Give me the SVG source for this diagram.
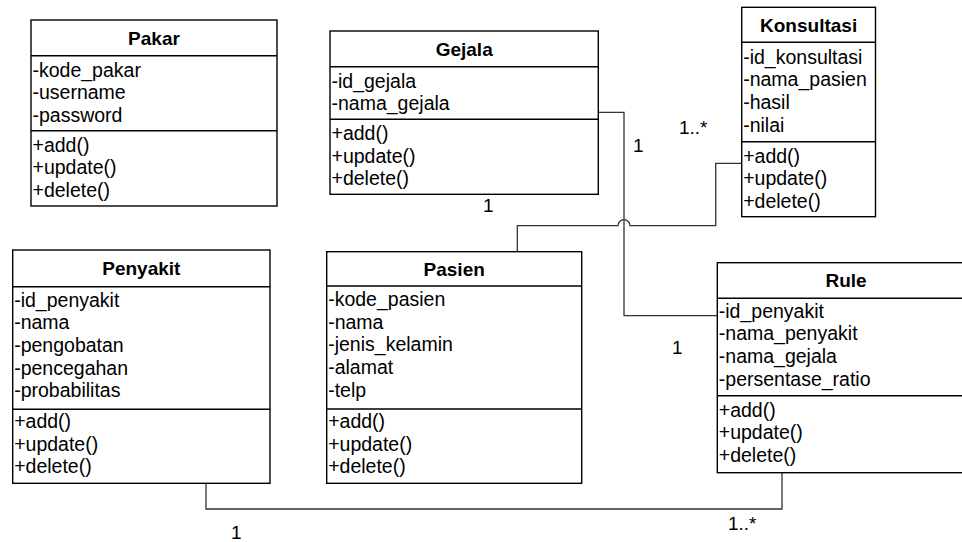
<svg xmlns="http://www.w3.org/2000/svg" width="962" height="542" viewBox="0 0 962 542">
  <style>
    .box { fill: #fff; stroke: #000; stroke-width: 1.4; }
    .div { stroke: #000; stroke-width: 1.4; }
    .title { font-family: "Liberation Sans", Arial, sans-serif; font-size: 19px; font-weight: bold; text-anchor: middle; fill: #000; }
    .item { font-family: "Liberation Sans", Arial, sans-serif; font-size: 19.5px; fill: #000; }
    .mult { font-family: "Liberation Sans", Arial, sans-serif; font-size: 19px; fill: #000; }
    .conn { fill: none; stroke: #333; stroke-width: 1.3; }
  </style>
  <rect width="962" height="542" fill="#fff"/>

  <!-- associations -->
  <g id="connectors">
    <!-- Gejala to Rule -->
    <path class="conn" d="M598.3,112.3 H624 V315.7 H717.3"/>
    <!-- Konsultasi to Pasien, hopping over the Gejala line -->
    <path class="conn" d="M741.7,163.3 H715.7 V225.7 H630 A6,6 0 0 0 618,225.7 H517.3 V251.7"/>
    <!-- Penyakit to Rule -->
    <path class="conn" d="M206,483.3 V509 H782 V472.7"/>
    <text class="mult" x="483" y="212">1</text>
    <text class="mult" x="633" y="152">1</text>
    <text class="mult" x="679" y="134">1..*</text>
    <text class="mult" x="672" y="354">1</text>
    <text class="mult" x="231" y="539">1</text>
    <text class="mult" x="728" y="530">1..*</text>
  </g>

  <!-- Pakar -->
  <g id="pakar">
    <rect class="box" x="31" y="20" width="246" height="186"/>
    <line class="div" x1="31" y1="55.7" x2="277" y2="55.7"/>
    <line class="div" x1="31" y1="130.7" x2="277" y2="130.7"/>
    <text class="title" x="154" y="44.5">Pakar</text>
    <text class="item" x="32.5" y="76.7">-kode_pakar</text>
    <text class="item" x="32.5" y="99.2">-username</text>
    <text class="item" x="32.5" y="121.7">-password</text>
    <text class="item" x="32.5" y="151.7">+add()</text>
    <text class="item" x="32.5" y="174.2">+update()</text>
    <text class="item" x="32.5" y="196.7">+delete()</text>
  </g>

  <!-- Gejala -->
  <g id="gejala">
    <rect class="box" x="330" y="31" width="268.3" height="163.3"/>
    <line class="div" x1="330" y1="66.7" x2="598.3" y2="66.7"/>
    <line class="div" x1="330" y1="119.3" x2="598.3" y2="119.3"/>
    <text class="title" x="464.2" y="55.6">Gejala</text>
    <text class="item" x="331.5" y="87.5">-id_gejala</text>
    <text class="item" x="331.5" y="110.2">-nama_gejala</text>
    <text class="item" x="331.5" y="140">+add()</text>
    <text class="item" x="331.5" y="162.7">+update()</text>
    <text class="item" x="331.5" y="185.4">+delete()</text>
  </g>

  <!-- Konsultasi -->
  <g id="konsultasi">
    <rect class="box" x="741.7" y="7.3" width="133.8" height="209.4"/>
    <line class="div" x1="741.7" y1="42.3" x2="875.5" y2="42.3"/>
    <line class="div" x1="741.7" y1="141.7" x2="875.5" y2="141.7"/>
    <text class="title" x="808.6" y="31.5">Konsultasi</text>
    <text class="item" x="743.2" y="63.5">-id_konsultasi</text>
    <text class="item" x="743.2" y="86.2">-nama_pasien</text>
    <text class="item" x="743.2" y="108.9">-hasil</text>
    <text class="item" x="743.2" y="131.6">-nilai</text>
    <text class="item" x="743.2" y="162.7">+add()</text>
    <text class="item" x="743.2" y="185.4">+update()</text>
    <text class="item" x="743.2" y="208.1">+delete()</text>
  </g>

  <!-- Penyakit -->
  <g id="penyakit">
    <rect class="box" x="12.7" y="250" width="257.3" height="233.3"/>
    <line class="div" x1="12.7" y1="286.7" x2="270" y2="286.7"/>
    <line class="div" x1="12.7" y1="409.3" x2="270" y2="409.3"/>
    <text class="title" x="141.3" y="275">Penyakit</text>
    <text class="item" x="14.2" y="306.5">-id_penyakit</text>
    <text class="item" x="14.2" y="329.2">-nama</text>
    <text class="item" x="14.2" y="351.9">-pengobatan</text>
    <text class="item" x="14.2" y="374.6">-pencegahan</text>
    <text class="item" x="14.2" y="397.3">-probabilitas</text>
    <text class="item" x="14.2" y="428">+add()</text>
    <text class="item" x="14.2" y="450.7">+update()</text>
    <text class="item" x="14.2" y="473.4">+delete()</text>
  </g>

  <!-- Pasien -->
  <g id="pasien">
    <rect class="box" x="326.7" y="251.7" width="255" height="231.6"/>
    <line class="div" x1="326.7" y1="286" x2="581.7" y2="286"/>
    <line class="div" x1="326.7" y1="409" x2="581.7" y2="409"/>
    <text class="title" x="454.2" y="275.5">Pasien</text>
    <text class="item" x="328.2" y="306">-kode_pasien</text>
    <text class="item" x="328.2" y="328.7">-nama</text>
    <text class="item" x="328.2" y="351.4">-jenis_kelamin</text>
    <text class="item" x="328.2" y="374.1">-alamat</text>
    <text class="item" x="328.2" y="396.8">-telp</text>
    <text class="item" x="328.2" y="428">+add()</text>
    <text class="item" x="328.2" y="450.7">+update()</text>
    <text class="item" x="328.2" y="473.4">+delete()</text>
  </g>

  <!-- Rule -->
  <g id="rule">
    <rect class="box" x="717.3" y="262.7" width="257.4" height="210"/>
    <line class="div" x1="717.3" y1="298.3" x2="974.7" y2="298.3"/>
    <line class="div" x1="717.3" y1="395.7" x2="974.7" y2="395.7"/>
    <text class="title" x="846" y="287">Rule</text>
    <text class="item" x="718.8" y="317.5">-id_penyakit</text>
    <text class="item" x="718.8" y="340.2">-nama_penyakit</text>
    <text class="item" x="718.8" y="362.9">-nama_gejala</text>
    <text class="item" x="718.8" y="385.6">-persentase_ratio</text>
    <text class="item" x="718.8" y="416.7">+add()</text>
    <text class="item" x="718.8" y="439.4">+update()</text>
    <text class="item" x="718.8" y="462.1">+delete()</text>
  </g>
</svg>
